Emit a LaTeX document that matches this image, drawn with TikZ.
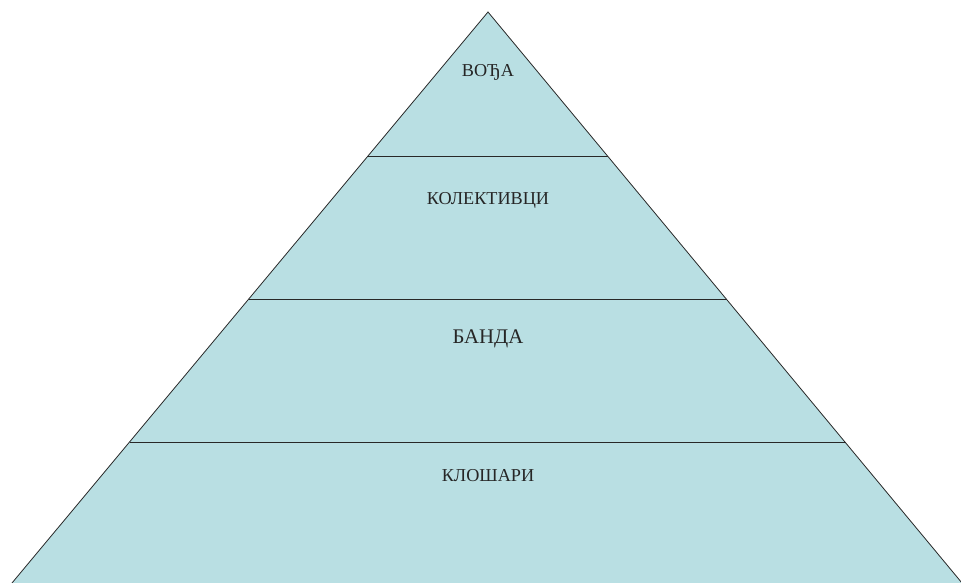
\documentclass[tikz,border=0pt]{standalone}
\usepackage{fontspec}
\setmainfont{Liberation Serif}
\definecolor{pyrfill}{RGB}{185,223,227}
\definecolor{pyrline}{RGB}{40,40,40}
\tikzset{
  layerline/.style={draw=pyrline, line width=0.8pt},
  lbl/.style={anchor=base, inner sep=0pt, text=black!85, font=\fontsize{18.2}{20}\selectfont},
  biglbl/.style={lbl, font=\fontsize{20.8}{23}\selectfont}
}
\begin{document}
\begin{tikzpicture}[x=1pt,y=-1pt]
\useasboundingbox (0,0) rectangle (961,583);
\coordinate (apex) at (488,12);
\coordinate (bl) at (12,583);
\coordinate (br) at (962,583);
\fill[pyrfill] (apex) -- (bl) -- (br) -- cycle;
\draw[layerline] (bl) -- (apex) -- (br);
\coordinate (l1) at (368,156); \coordinate (r1) at (608,156);
\coordinate (l2) at (249,299); \coordinate (r2) at (727,299);
\coordinate (l3) at (130,442); \coordinate (r3) at (846,442);
\draw[layerline] (l1) -- (r1);
\draw[layerline] (l2) -- (r2);
\draw[layerline] (l3) -- (r3);
\node[lbl] (voda) at (488,77) {ВОЂА};
\node[lbl] (kol) at (488,204) {КОЛЕКТИВЦИ};
\node[biglbl] (banda) at (488,343) {БАНДА};
\node[lbl] (klo) at (488,481) {КЛОШАРИ};
\end{tikzpicture}
\end{document}
